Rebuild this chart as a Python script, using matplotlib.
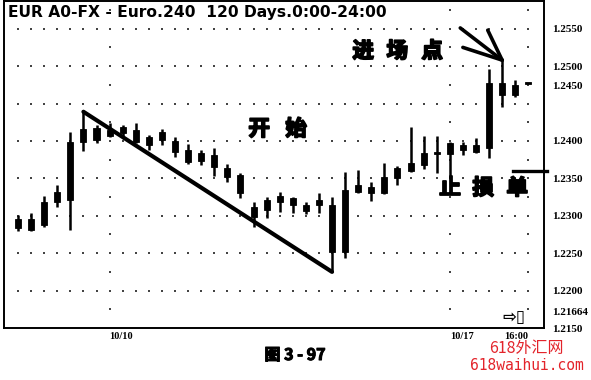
import matplotlib.pyplot as plt
import matplotlib.patheffects as pe
from matplotlib.patches import Rectangle
from matplotlib.transforms import ScaledTranslation, blended_transform_factory

plt.rcParams['font.family'] = ['Noto Sans CJK SC', 'DejaVu Sans']

# 4小时K线 (EUR 240)
opens = [1.2284, 1.2295, 1.2287, 1.2319, 1.2321, 1.2399, 1.2417, 1.2407, 1.2411, 1.2415,
         1.2405, 1.2401, 1.2400, 1.2388, 1.2373, 1.2381, 1.2364, 1.2355, 1.2299, 1.2308,
         1.2319, 1.2324, 1.2315, 1.2315, 1.2315, 1.2251, 1.2341, 1.2331, 1.2331, 1.2351,
         1.2371, 1.2368, 1.2385, 1.2383, 1.2388, 1.2395, 1.2391, 1.2477, 1.2461, 1.2476]
highs = [1.2301, 1.2304, 1.2327, 1.2341, 1.2412, 1.2439, 1.2421, 1.2424, 1.2421, 1.2424,
         1.2408, 1.2416, 1.2405, 1.2396, 1.2388, 1.2391, 1.2369, 1.2357, 1.2319, 1.2325,
         1.2332, 1.2325, 1.2319, 1.2331, 1.2325, 1.2359, 1.2361, 1.2345, 1.2371, 1.2367,
         1.2419, 1.2407, 1.2407, 1.2399, 1.2399, 1.2404, 1.2496, 1.2508, 1.2481, 1.2476]
lows = [1.2279, 1.2280, 1.2285, 1.2312, 1.2281, 1.2387, 1.2397, 1.2405, 1.2405, 1.2397,
        1.2388, 1.2395, 1.2379, 1.2369, 1.2368, 1.2353, 1.2345, 1.2324, 1.2285, 1.2297,
        1.2305, 1.2304, 1.2303, 1.2304, 1.2225, 1.2244, 1.2331, 1.2320, 1.2329, 1.2341,
        1.2359, 1.2363, 1.2357, 1.2351, 1.2381, 1.2384, 1.2377, 1.2445, 1.2459, 1.2476]
closes = [1.2295, 1.2281, 1.2319, 1.2332, 1.2399, 1.2416, 1.2401, 1.2415, 1.2419, 1.2399,
          1.2395, 1.2412, 1.2385, 1.2372, 1.2384, 1.2365, 1.2352, 1.2331, 1.2312, 1.2321,
          1.2327, 1.2315, 1.2307, 1.2321, 1.2251, 1.2335, 1.2332, 1.2339, 1.2352, 1.2364,
          1.2360, 1.2384, 1.2383, 1.2397, 1.2395, 1.2385, 1.2477, 1.2461, 1.2475, 1.2476]

price_ticks = [1.2550, 1.2500, 1.2450, 1.2400, 1.2350, 1.2300, 1.2250, 1.2200, 1.21664, 1.2150]
tick_labels = ['1.2550', '1.2500', '1.2450', '1.2400', '1.2350', '1.2300', '1.2250', '1.2200', '1.21664', '1.2150']
grid_levels = [1.2550, 1.2500, 1.2450, 1.2400, 1.2350, 1.2300, 1.2250, 1.2200]
day_seps = [7, 33, 39]
day_labels = ['10/10', '10/17', '16:00']

stop_price = 1.2360

fig = plt.figure(figsize=(5.91, 3.80), dpi=100)
ax = fig.add_axes([4 / 591, 1 - 328 / 380, 540 / 591, 327 / 380])
ax.set_xlim(-1.07, 40.2)
ax.set_ylim(1.2150, 1.2587)

n = len(opens)

# 点状网格
for lvl in grid_levels:
    ax.scatter(range(n), [lvl] * n, s=1.6, marker='s', color='#444', linewidths=0, zorder=1)
mids = [lvl - 0.0025 for lvl in grid_levels] + [1.2575]
for s in day_seps:
    ax.scatter([s] * len(mids), mids, s=1.6, marker='s', color='#444', linewidths=0, zorder=1)

# K线
for i in range(n):
    ax.vlines(i, lows[i], highs[i], color='black', linewidth=1.8, zorder=3)
    bot = min(opens[i], closes[i])
    h = max(abs(closes[i] - opens[i]), 0.00022)
    ax.add_patch(Rectangle((i - 0.23, bot), 0.46, h, facecolor='black', edgecolor='black',
                           linewidth=0.6, zorder=4))

# 下降趋势线: 从高点连到低点
ax.plot([5, 24], [highs[5], lows[24]], color='black', linewidth=3, solid_capstyle='round', zorder=5)

# 进场点的箭头
tip = (37, highs[37])
for sx, sy in [(33.8, 1.2551), (35.9, 1.2548), (34.0, 1.2525)]:
    ax.plot([sx, tip[0]], [sy, tip[1]], color='black', linewidth=2.6, solid_capstyle='round', zorder=5)

# 止损单水平线
ax.plot([37.8, 40.4], [stop_price, stop_price], color='black', linewidth=2.4, clip_on=False, zorder=5)

# 文字标注 (逐字放置, 字距较宽), 描边加粗
heavy = [pe.withStroke(linewidth=1.3, foreground='black')]
notes = [
    ('开始', [18.43, 21.25], 1.2416),
    ('进场点', [26.38, 28.98, 31.65], 1.2520),
    ('止损单', [33.03, 35.55, 38.15], 1.2337),
]
for word, xs, y in notes:
    for ch, x in zip(word, xs):
        ax.text(x, y, ch, fontsize=15.5, fontweight='bold', ha='center', va='center',
                zorder=6, path_effects=heavy)

ax.text(0.007, 0.988, 'EUR A0-FX - Euro.240  120 Days.0:00-24:00', transform=ax.transAxes,
        family='DejaVu Sans', fontsize=11.2, fontweight='bold', ha='left', va='top')

ax.text(37.9, 1.2165, '⇨▯', family='DejaVu Sans', fontsize=12, fontweight='bold', ha='center', va='center')

# 坐标轴
for sp in ax.spines.values():
    sp.set_linewidth(1.4)
ax.set_xticks([])
ax.yaxis.tick_right()
ax.set_yticks(price_ticks)
ax.set_yticklabels(tick_labels, family='Liberation Serif', fontweight='bold', fontsize=8)
ax.tick_params(axis='y', length=0, pad=6)
labels = ax.get_yticklabels()
labels[2].set_transform(labels[2].get_transform() + ScaledTranslation(0, 18 / 100, fig.dpi_scale_trans))
labels[8].set_transform(labels[8].get_transform() + ScaledTranslation(0, 4 / 100, fig.dpi_scale_trans))

trans = blended_transform_factory(ax.transData, ax.transAxes)
for s, lab in zip(day_seps, day_labels):
    ha = 'right' if lab == '16:00' else 'left'
    ax.text(s, -0.012, lab, transform=trans, family='Liberation Serif', fontweight='bold',
            fontsize=7.5, ha=ha, va='top')

fig.text(295 / 591, 1 - 355 / 380, '图 3 - 97', fontsize=11.5, fontweight='bold', ha='center', va='center',
         path_effects=[pe.withStroke(linewidth=0.8, foreground='black')])
fig.text(526 / 591, 1 - 348 / 380, '618外汇网', fontsize=11.5, color='#e3242b', ha='center', va='center')
fig.text(527 / 591, 1 - 365 / 380, '618waihui.com', family='DejaVu Sans Mono', fontsize=10.5,
         color='#e3242b', ha='center', va='center')

fig.savefig('out.png', dpi=100)
